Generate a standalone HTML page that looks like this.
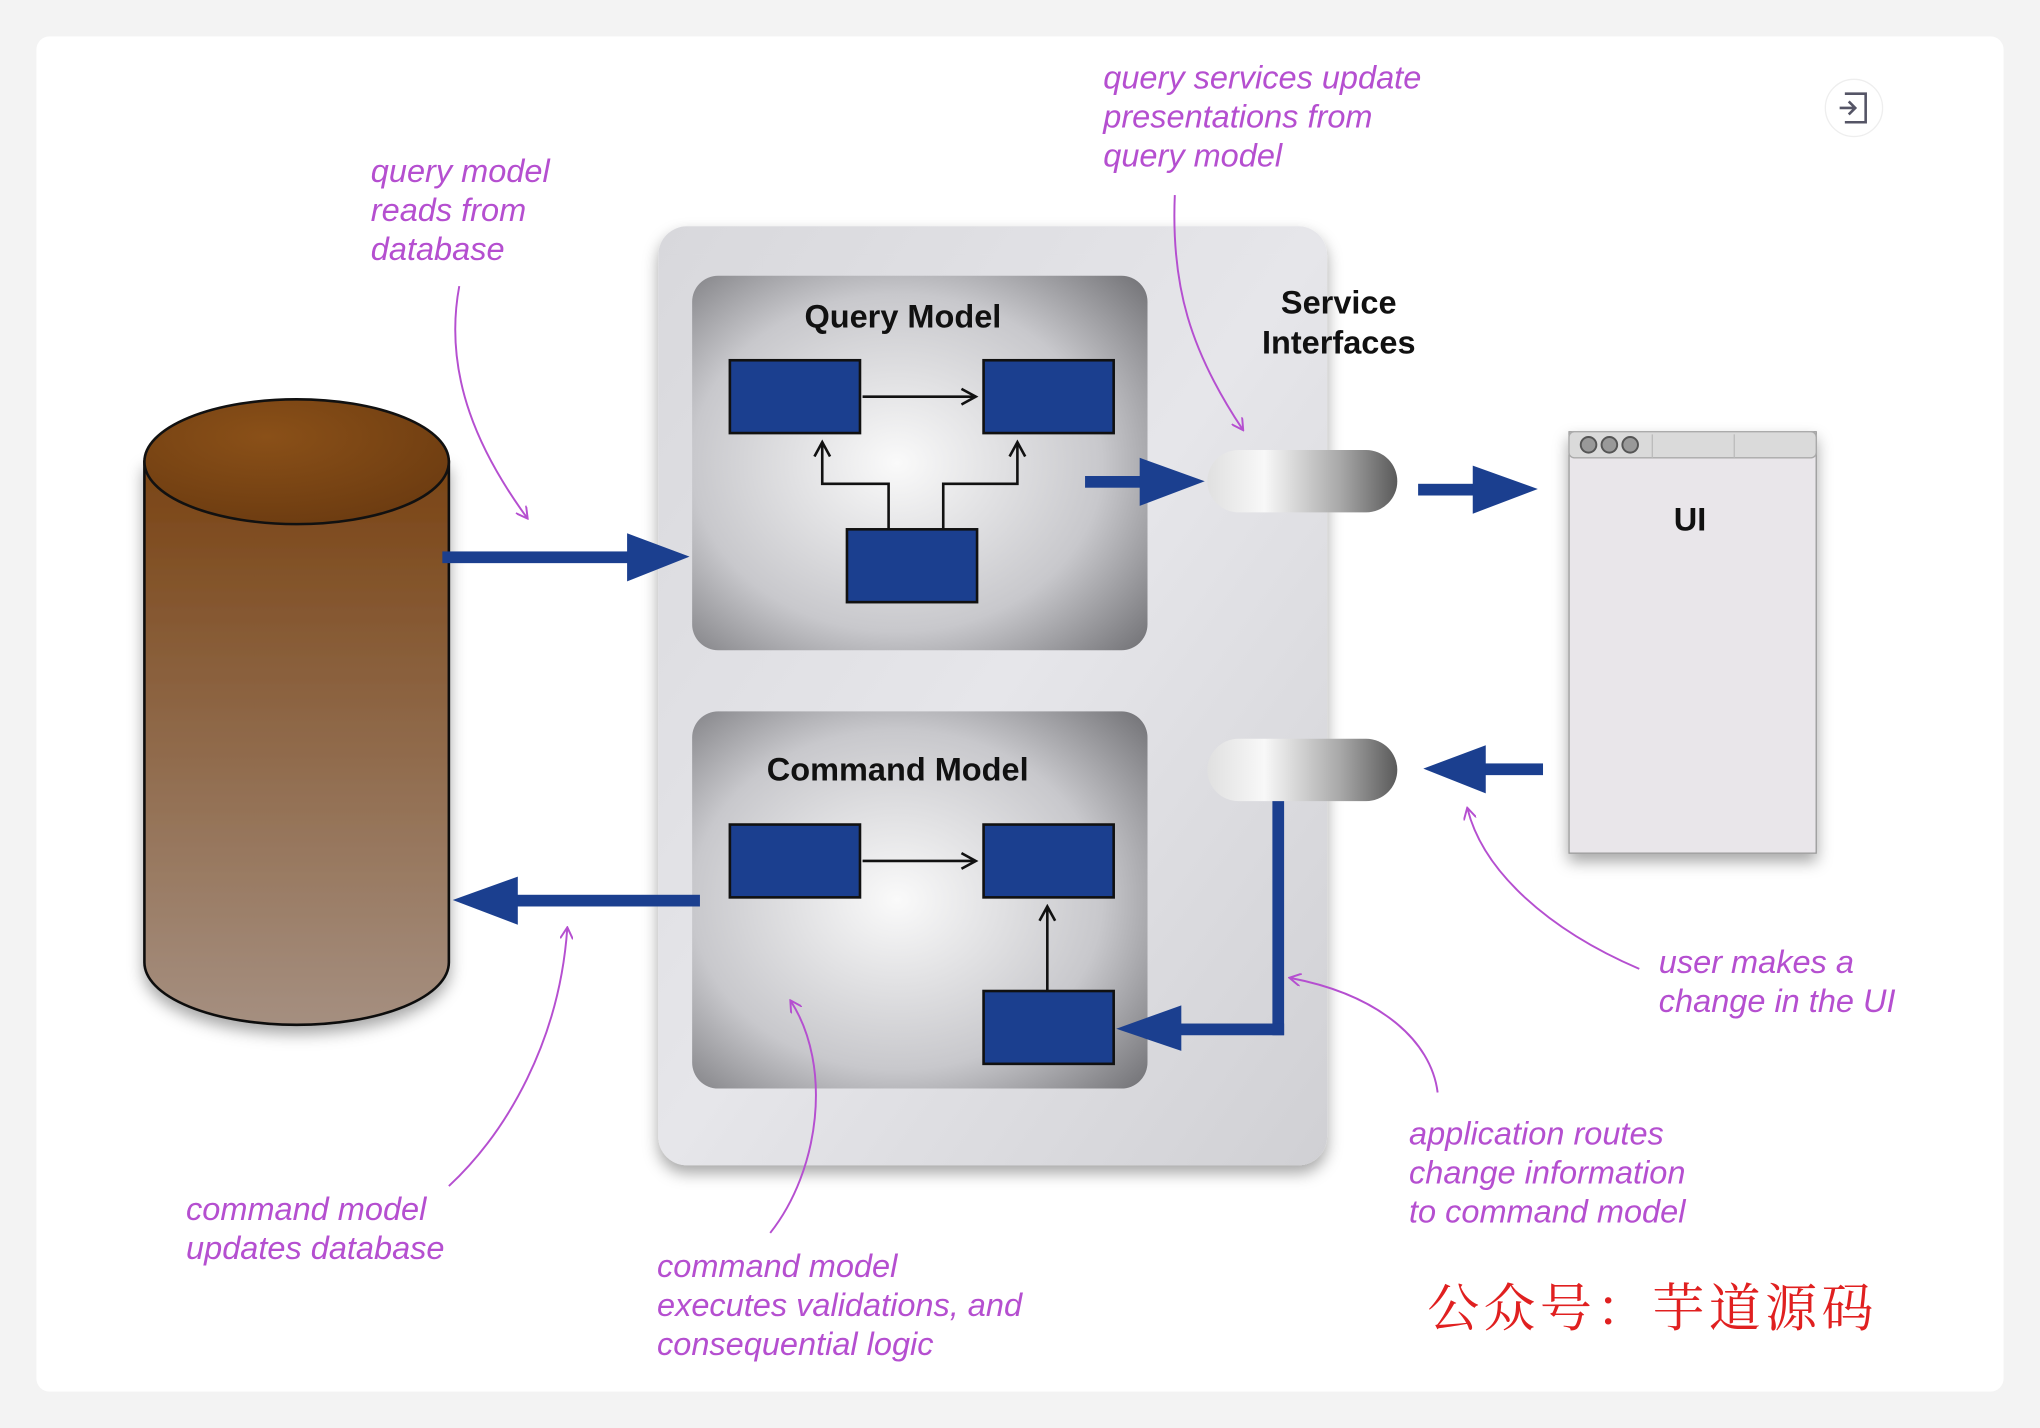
<!DOCTYPE html>
<html><head><meta charset="utf-8"><style>
html,body{margin:0;padding:0;background:#f4f4f4;}
svg{display:block;}
.note{font-family:"Liberation Sans",sans-serif;font-style:italic;font-size:25px;fill:#b54fd0;}
.title{font-family:"Liberation Sans",sans-serif;font-weight:bold;font-size:25px;fill:#111;}
</style></head><body>
<svg width="2040" height="1428" viewBox="0 0 1568 1098" preserveAspectRatio="none" xmlns="http://www.w3.org/2000/svg">
<defs>
<linearGradient id="cyl" x1="0" y1="0" x2="0" y2="1">
<stop offset="0" stop-color="#7a4414"/><stop offset="1" stop-color="#a58f80"/></linearGradient>
<radialGradient id="top" cx="0.4" cy="0.3" r="0.8"><stop offset="0" stop-color="#8a5018"/><stop offset="1" stop-color="#6a3a10"/></radialGradient>
<radialGradient id="inner" cx="0.45" cy="0.5" r="0.75"><stop offset="0" stop-color="#fafafa"/><stop offset="0.6" stop-color="#c8c8cc"/><stop offset="1" stop-color="#6e6e72"/></radialGradient>
<linearGradient id="outer" x1="0" y1="0" x2="1" y2="1"><stop offset="0" stop-color="#d8d8dc"/><stop offset="0.5" stop-color="#e6e6ea"/><stop offset="1" stop-color="#d0d0d4"/></linearGradient>
<linearGradient id="pipe" x1="0" y1="0" x2="1" y2="0"><stop offset="0" stop-color="#e0e0e0"/><stop offset="0.3" stop-color="#f8f8f8"/><stop offset="0.7" stop-color="#a8a8a8"/><stop offset="1" stop-color="#5a5a5a"/></linearGradient>
<filter id="sh" x="-10%" y="-10%" width="130%" height="130%"><feDropShadow dx="0" dy="6" stdDeviation="6" flood-opacity="0.35"/></filter>
<marker id="pa" markerWidth="10" markerHeight="10" refX="8" refY="5" orient="auto" markerUnits="userSpaceOnUse"><path d="M0,0 L9,5 L0,10" fill="none" stroke="#b54fd0" stroke-width="1.5"/></marker>
<marker id="ba" markerWidth="14" markerHeight="14" refX="12" refY="7" orient="auto" markerUnits="userSpaceOnUse"><path d="M1,1 L12,7 L1,13" fill="none" stroke="#111" stroke-width="2"/></marker>
</defs>
<rect x="0" y="0" width="1568" height="1098" fill="#f3f3f3"/>
<rect x="28" y="28" width="1512" height="1042" rx="10" fill="#fff"/>
<circle cx="1425" cy="83" r="22" fill="#fff" stroke="#eee"/>
<path d="M1418,72 h16 v22 h-16 M1414,83 h12 M1421,78 l5,5 l-5,5" fill="none" stroke="#556" stroke-width="2"/>
<path d="M111,355 L111,740 A117,48 0 0 0 345,740 L345,355 Z" fill="url(#cyl)" stroke="#111" stroke-width="2" filter="url(#sh)"/>
<ellipse cx="228" cy="355" rx="117" ry="48" fill="url(#top)" stroke="#111" stroke-width="2"/>
<rect x="506" y="174" width="514" height="722" rx="22" fill="url(#outer)" filter="url(#sh)"/>
<rect x="532" y="212" width="350" height="288" rx="20" fill="url(#inner)"/>
<rect x="532" y="547" width="350" height="290" rx="20" fill="url(#inner)"/>
<text class="title" x="694" y="252" text-anchor="middle">Query Model</text>
<text class="title" x="690" y="600" text-anchor="middle">Command Model</text>
<text class="title" x="1029" y="241" text-anchor="middle">Service</text>
<text class="title" x="1029" y="272" text-anchor="middle">Interfaces</text>
<g fill="#1b3f8f" stroke="#111" stroke-width="2">
<rect x="561" y="277" width="100" height="56"/><rect x="756" y="277" width="100" height="56"/><rect x="651" y="407" width="100" height="56"/>
<rect x="561" y="634" width="100" height="56"/><rect x="756" y="634" width="100" height="56"/><rect x="756" y="762" width="100" height="56"/>
</g>
<g fill="none" stroke="#111" stroke-width="2">
<path d="M663,305 H750" marker-end="url(#ba)"/>
<path d="M683,407 V372 H632 V340" marker-end="url(#ba)"/>
<path d="M725,407 V372 H782 V340" marker-end="url(#ba)"/>
<path d="M663,662 H750" marker-end="url(#ba)"/>
<path d="M805,762 V697" marker-end="url(#ba)"/>
</g>
<rect x="928" y="346" width="146" height="48" rx="24" fill="url(#pipe)"/>
<rect x="928" y="568" width="146" height="48" rx="24" fill="url(#pipe)"/>
<rect x="1206" y="332" width="190" height="324" fill="#e9e6ea" stroke="#999" filter="url(#sh)"/>
<rect x="1206" y="332" width="190" height="20" rx="4" fill="#dadada" stroke="#aaa"/>
<line x1="1270" y1="334" x2="1270" y2="352" stroke="#bbb"/><line x1="1333" y1="334" x2="1333" y2="352" stroke="#bbb"/>
<g fill="#999" stroke="#555" stroke-width="1.5"><circle cx="1221" cy="342" r="6"/><circle cx="1237" cy="342" r="6"/><circle cx="1253" cy="342" r="6"/></g>
<text class="title" x="1299" y="408" text-anchor="middle">UI</text>
<g fill="#1b3f8f">
<rect x="340" y="424" width="145" height="9"/><path d="M482,410 L530,428 L482,447 Z"/>
<rect x="834" y="366" width="46" height="9"/><path d="M876,352 L926,370 L876,389 Z"/>
<rect x="1090" y="372" width="46" height="9"/><path d="M1132,358 L1182,376 L1132,395 Z"/>
<rect x="395" y="688" width="143" height="9"/><path d="M398,674 L348,692 L398,711 Z"/>
<rect x="1138" y="587" width="48" height="9"/><path d="M1142,573 L1094,591 L1142,610 Z"/>
<rect x="978" y="616" width="9" height="180"/><rect x="905" y="787" width="82" height="9"/><path d="M908,773 L858,791 L908,808 Z"/>
</g>
<text class="note" x="285" y="140">query model</text><text class="note" x="285" y="170">reads from</text><text class="note" x="285" y="200">database</text>
<text class="note" x="848" y="68">query services update</text><text class="note" x="848" y="98">presentations from</text><text class="note" x="848" y="128">query model</text>
<text class="note" x="1275" y="748">user makes a</text><text class="note" x="1275" y="778">change in the UI</text>
<text class="note" x="1083" y="880">application routes</text><text class="note" x="1083" y="910">change information</text><text class="note" x="1083" y="940">to command model</text>
<text class="note" x="143" y="938">command model</text><text class="note" x="143" y="968">updates database</text>
<text class="note" x="505" y="982">command model</text><text class="note" x="505" y="1012">executes validations, and</text><text class="note" x="505" y="1042">consequential logic</text>
<g fill="none" stroke="#b54fd0" stroke-width="1.5">
<path d="M353,220 C340,290 370,350 405,398" marker-end="url(#pa)"/>
<path d="M903,150 C900,220 915,270 955,330" marker-end="url(#pa)"/>
<path d="M1260,745 C1190,715 1140,670 1128,622" marker-end="url(#pa)"/>
<path d="M1105,840 C1100,800 1060,765 992,752" marker-end="url(#pa)"/>
<path d="M345,912 C390,870 430,800 436,714" marker-end="url(#pa)"/>
<path d="M592,948 C630,900 640,820 608,770" marker-end="url(#pa)"/>
</g>
<text x="1097" y="1020" font-family="'Noto Serif CJK SC','Noto Sans CJK SC',serif" font-size="40" fill="#e02020" textLength="343" lengthAdjust="spacing">公众号：芋道源码</text>
</svg>
</body></html>
